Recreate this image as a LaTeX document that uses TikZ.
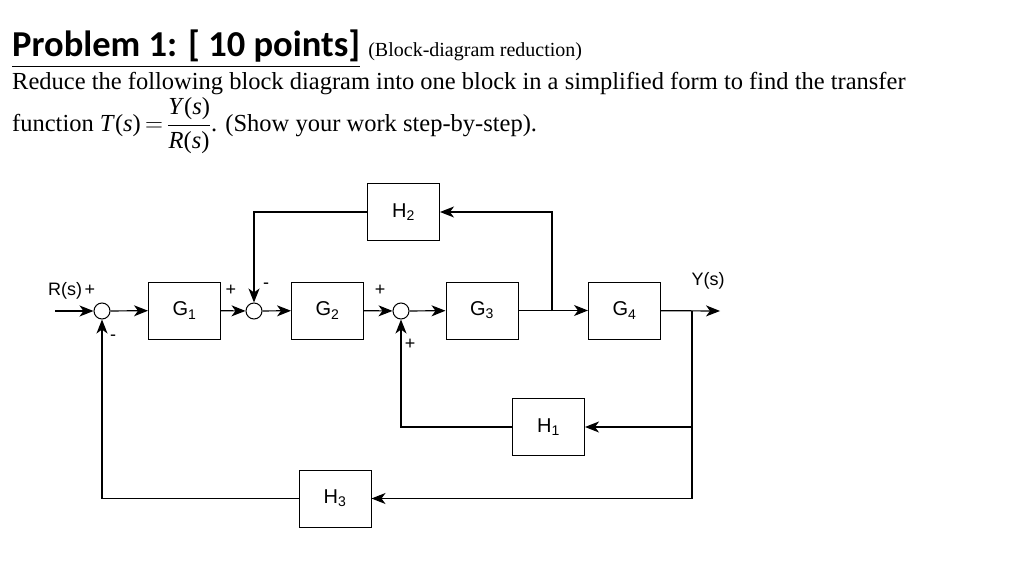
\documentclass[tikz,border=0pt]{standalone}
\usepackage{amsmath}
\usepackage{fontspec}
\setmainfont{Liberation Serif}
\newfontfamily\diagfont{Liberation Sans}
\newfontfamily\titlefont{Carlito}
\usetikzlibrary{arrows.meta}
\begin{document}
\begin{tikzpicture}[x=1pt,y=-1pt,
  blk/.style={draw,line width=1pt,minimum width=72pt,minimum height=57pt,font=\diagfont\fontsize{20}{20}\selectfont},
  sumj/.style={draw,circle,line width=1pt,minimum size=16pt,inner sep=0pt},
  sig/.style={line width=1.2pt,-{Stealth[length=14pt,width=11pt,inset=4pt]}},
  lbl/.style={font=\diagfont\fontsize{18}{18}\selectfont,inner sep=0pt}]
\useasboundingbox (0,0) rectangle (1024,569);
\node[anchor=base west,inner sep=0pt] (title) at (12,57) {\titlefont\fontsize{36.5}{36.5}\selectfont\textbf{\underline{Problem 1: [ 10 points]}} \fontspec{Liberation Serif}\fontsize{20}{20}\selectfont(Block-diagram reduction)};
\node[anchor=base west,inner sep=0pt] (l2) at (12,90) {\fontsize{24.5}{24.5}\selectfont Reduce the following block diagram into one block in a simplified form to find the transfer};
\node[anchor=west,inner sep=0pt] (l3) at (12,126) {\fontsize{24.5}{24.5}\selectfont function \textit{T}(\textit{s})$\,=\,$$\dfrac{\text{\textit{Y}(\textit{s})}}{\text{\textit{R}(\textit{s})}}$. (Show your work step-by-step).};

\node[sumj] (s1) at (102,311) {};
\node[blk] (g1) at (184.5,310.5) {G\textsubscript{1}};
\node[sumj] (s2) at (254,311) {};
\node[blk] (g2) at (327.5,310.5) {G\textsubscript{2}};
\node[sumj] (s3) at (401,311) {};
\node[blk] (g3) at (482,310.5) {G\textsubscript{3}};
\node[blk] (g4) at (624.5,310.5) {G\textsubscript{4}};
\node[blk] (h2) at (403.5,212) {H\textsubscript{2}};
\node[blk] (h1) at (548.5,427) {H\textsubscript{1}};
\node[blk] (h3) at (335,498.5) {H\textsubscript{3}};
\coordinate (in) at (55,311);
\coordinate (out) at (720,311);
\coordinate (b1) at (552,311);
\coordinate (b2) at (692,311);

\draw[sig] (in) -- (s1);
\draw[sig] (s1) -- (g1);
\draw[sig] (g1) -- (s2);
\draw[sig] (s2) -- (g2);
\draw[sig] (g2) -- (s3);
\draw[sig] (s3) -- (g3);
\draw[sig] (g3) -- (g4);
\draw[sig] (g4) -- (out);
\draw[sig] (b1) |- (h2);
\draw[sig] (h2) -| (s2);
\draw[sig] (b2) |- (h1);
\draw[sig] (h1) -| (s3);
\draw[sig] (b2) |- (h3);
\draw[sig] (h3) -| (s1);

\node[lbl,anchor=base west] (rl) at (48,295) {R(s)};
\node[lbl,anchor=base] (p1) at (90,295) {+};
\node[lbl] (m1) at (113,338) {-};
\node[lbl] (p2) at (231,290) {+};
\node[lbl] (m2) at (266,286) {-};
\node[lbl] (p3) at (380,290) {+};
\node[lbl] (p4) at (410,344) {+};
\node[lbl,anchor=base] (yl) at (708,285) {Y(s)};
\end{tikzpicture}
\end{document}
